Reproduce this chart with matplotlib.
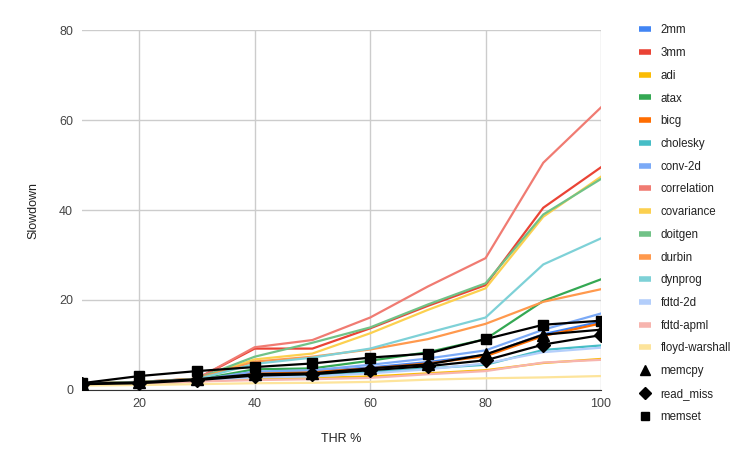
import numpy as np
import matplotlib.pyplot as plt
from matplotlib.lines import Line2D

plt.rcParams['font.family'] = ['Liberation Sans', 'DejaVu Sans']

thr = [10, 20, 30, 40, 50, 60, 70, 80, 90, 100]

# colored benchmark series
names = ['2mm', '3mm', 'adi', 'atax', 'bicg', 'cholesky', 'conv-2d', 'correlation',
         'covariance', 'doitgen', 'durbin', 'dynprog', 'fdtd-2d', 'fdtd-apml', 'floyd-warshall']
colors = ['#4285f4', '#ea4335', '#fbbc04', '#34a853', '#ff6d01', '#46bdc6', '#7baaf7', '#f07b72',
          '#fcd04f', '#71c287', '#ff994d', '#7ed1d7', '#b3cefb', '#f7b4ae', '#fde49b']
mm2 = [1.2, 1.4, 1.9, 3.9, 4.1, 5.0, 6.2, 7.8, 12.4, 15.2]
mm3 = [1.5, 1.8, 2.5, 9.2, 9.2, 13.7, 18.7, 23.3, 40.5, 49.5]
adi = [1.2, 1.4, 1.9, 2.5, 2.7, 3.0, 3.7, 4.4, 6.0, 6.9]
atax = [1.3, 1.6, 2.3, 4.6, 4.8, 6.5, 8.4, 11.3, 19.8, 24.6]
bicg = [1.3, 1.5, 2.2, 3.8, 4.0, 4.8, 5.9, 7.5, 12.0, 14.8]
cholesky = [1.2, 1.5, 2.1, 3.0, 3.2, 4.0, 4.8, 5.6, 8.9, 9.9]
conv2d = [1.3, 1.6, 2.2, 4.1, 4.4, 5.6, 7.0, 8.8, 13.4, 17.0]
correlation = [1.5, 1.8, 2.5, 9.5, 11.1, 16.1, 23.0, 29.3, 50.5, 62.8]
covariance = [1.4, 1.7, 2.4, 6.8, 8.1, 12.6, 17.8, 22.6, 38.5, 47.4]
doitgen = [1.5, 1.8, 2.5, 7.4, 10.5, 13.9, 19.0, 23.7, 39.0, 46.9]
durbin = [1.4, 1.7, 2.5, 6.3, 7.4, 9.0, 11.3, 14.7, 19.6, 22.4]
dynprog = [1.4, 1.7, 2.4, 5.8, 7.2, 9.2, 12.7, 16.1, 27.9, 33.7]
fdtd2d = [1.2, 1.5, 2.0, 2.8, 3.0, 3.7, 4.6, 5.9, 8.4, 9.4]
fdtdapml = [1.2, 1.4, 1.9, 2.2, 2.4, 2.7, 3.5, 4.2, 6.1, 6.7]
floyd = [1.0, 1.1, 1.3, 1.5, 1.6, 1.8, 2.3, 2.6, 2.8, 3.1]
series = [mm2, mm3, adi, atax, bicg, cholesky, conv2d, correlation,
          covariance, doitgen, durbin, dynprog, fdtd2d, fdtdapml, floyd]

# black marker series
memcpy = [1.4, 1.7, 2.4, 3.5, 3.7, 4.8, 5.7, 7.9, 12.3, 13.4]
read_miss = [1.3, 1.5, 2.2, 3.2, 3.5, 4.4, 5.3, 6.6, 10.1, 12.2]
memset = [1.5, 3.1, 4.2, 5.1, 5.9, 7.2, 8.1, 11.3, 14.5, 15.4]

fig = plt.figure(figsize=(7.52, 4.66), dpi=100)
ax = fig.add_axes([0.1084, 0.1631, 0.6908, 0.7725])

handles = []
for name, c, vals in zip(names, colors, series):
    ax.plot(thr, vals, color=c, lw=1.6, zorder=2)
    handles.append(Line2D([], [], color=c, lw=4, solid_capstyle='butt', label=name))

for name, mk, ms, vals in [('memcpy', '^', 8, memcpy), ('read_miss', 'D', 7, read_miss),
                           ('memset', 's', 7, memset)]:
    ax.plot(thr, vals, color='black', lw=1.6, marker=mk, ms=ms, zorder=3)
    handles.append(Line2D([], [], color='black', lw=0, marker=mk, ms=ms - 1, label=name))

ax.set_xlim(10, 100)
ax.set_ylim(0, 80)
ax.set_xticks([20, 40, 60, 80, 100])
ax.set_yticks([0, 20, 40, 60, 80])
ax.grid(True, color='#cccccc', lw=1)
ax.set_axisbelow(True)
for s in ['top', 'right', 'left']:
    ax.spines[s].set_visible(False)
ax.spines['bottom'].set_color('#333333')
ax.tick_params(length=0, labelsize=9, colors='#444444', pad=6)
ax.set_xlabel('THR %', fontsize=9, color='#222222', labelpad=16)
ax.set_ylabel('Slowdown', fontsize=9, color='#222222', labelpad=14)

fig.legend(handles=handles, loc='upper left', bbox_to_anchor=(0.836, 0.97),
           frameon=False, fontsize=8.3, handlelength=1.0, handletextpad=0.85,
           labelspacing=0.93, labelcolor='#222222')

fig.savefig('out.png', dpi=100)
